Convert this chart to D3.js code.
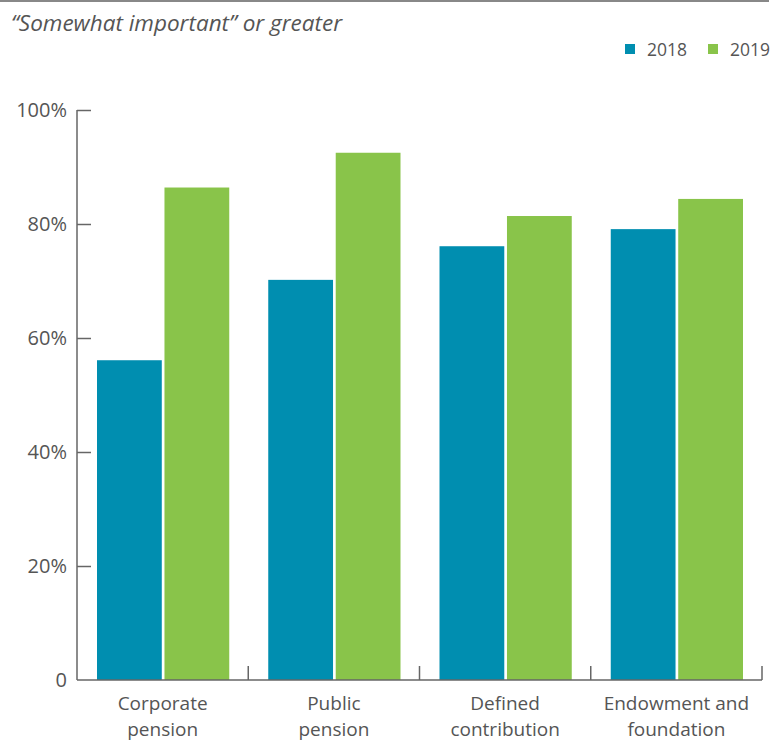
<!DOCTYPE html>
<html>
<head>
<meta charset="utf-8">
<script src="https://cdn.jsdelivr.net/npm/d3@7"></script>
<style>
  html, body { margin: 0; padding: 0; background: #fff; }
  svg { display: block; font-family: "Open Sans", "Noto Sans", sans-serif; }
</style>
</head>
<body>
<svg id="chart" width="784" height="742"></svg>
<script>
// Share of respondents rating the factor "somewhat important" or greater
const categories = [["Corporate", "pension"], ["Public", "pension"], ["Defined", "contribution"], ["Endowment and", "foundation"]];
const seriesNames = ["2018", "2019"];
const values2018 = [56.1, 70.2, 76.1, 79.1];
const values2019 = [86.4, 92.5, 81.4, 84.4];
const yTicks = [0, 20, 40, 60, 80, 100];
const yTickLabels = ["0", "20%", "40%", "60%", "80%", "100%"];
const colors = ["#008eb0", "#89c44a"];

const svg = d3.select("#chart");
const textColor = "#555";
const axisColor = "#666";

const plotLeft = 77, plotRight = 762, plotTop = 110, plotBottom = 680;

const x = d3.scaleBand().domain(d3.range(categories.length)).range([plotLeft, plotRight]).paddingInner(0).paddingOuter(0);
const xInner = d3.scaleBand().domain(seriesNames).range([20, x.bandwidth() - 19]).paddingInner(0.04);
const y = d3.scaleLinear().domain([0, 100]).range([plotBottom, plotTop]);

// top rule
svg.append("line").attr("x1", 0).attr("x2", 769).attr("y1", 1).attr("y2", 1)
  .attr("stroke", "#888").attr("stroke-width", 2);

// subtitle
svg.append("text").attr("x", 11).attr("y", 31)
  .attr("font-size", 22.5).attr("font-style", "italic").attr("fill", textColor)
  .text("\u201CSomewhat important\u201D or greater");

// legend
const legend = svg.append("g");
const legendX = [625, 708];
seriesNames.forEach((s, i) => {
  legend.append("rect").attr("x", legendX[i]).attr("y", 44).attr("width", 10).attr("height", 10).attr("fill", colors[i]);
  legend.append("text").attr("x", legendX[i] + 22).attr("y", 56).attr("font-size", 17.5).attr("fill", textColor).text(s);
});

// bars
const data = categories.map((c, i) => ({ i, vals: [values2018[i], values2019[i]] }));
const groups = svg.append("g").selectAll("g").data(data).join("g")
  .attr("transform", d => `translate(${x(d.i)},0)`);
groups.selectAll("rect").data(d => d.vals.map((v, k) => ({ v, k })))
  .join("rect")
  .attr("x", d => xInner(seriesNames[d.k]))
  .attr("width", xInner.bandwidth())
  .attr("y", d => y(d.v))
  .attr("height", d => y(0) - y(d.v))
  .attr("fill", d => colors[d.k]);

// y axis: line with inward ticks
const yAxis = d3.axisRight(y).tickValues(yTicks.slice(1)).tickSize(14).tickFormat("");
const yg = svg.append("g").attr("transform", `translate(${plotLeft},0)`).call(yAxis);
yg.select(".domain").attr("d", `M0,${plotTop}V${plotBottom}`);
yg.selectAll("line, path").attr("stroke", axisColor).attr("stroke-width", 1.5);

svg.append("g").selectAll("text").data(yTicks).join("text")
  .attr("x", 67).attr("y", d => y(d)).attr("dy", "0.36em")
  .attr("text-anchor", "end").attr("font-size", 20).attr("fill", textColor)
  .text((d, i) => yTickLabels[i]);

// x axis: baseline with upward separator ticks at band edges
const xg = svg.append("g");
xg.append("line").attr("x1", plotLeft).attr("x2", plotRight).attr("y1", plotBottom).attr("y2", plotBottom)
  .attr("stroke", axisColor).attr("stroke-width", 1.5);
xg.selectAll("line.sep").data(d3.range(1, categories.length + 1)).join("line")
  .attr("class", "sep")
  .attr("x1", i => x(i - 1) + x.bandwidth()).attr("x2", i => x(i - 1) + x.bandwidth())
  .attr("y1", plotBottom).attr("y2", plotBottom - 14)
  .attr("stroke", axisColor).attr("stroke-width", 1.5);

// category labels
const labels = svg.append("g").selectAll("text").data(categories).join("text")
  .attr("text-anchor", "middle").attr("font-size", 19).attr("fill", textColor)
  .attr("transform", (d, i) => `translate(${x(i) + x.bandwidth() / 2},0)`);
labels.selectAll("tspan").data(d => d).join("tspan")
  .attr("x", 0).attr("y", (d, k) => 710 + k * 26).text(d => d);
</script>
</body>
</html>
